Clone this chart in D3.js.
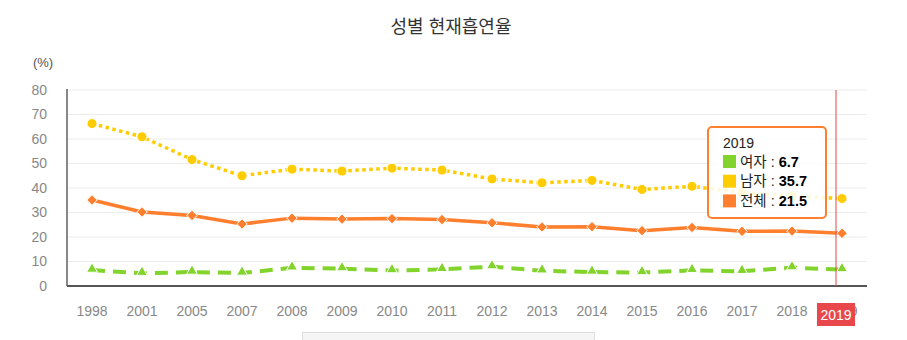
<!DOCTYPE html>
<html>
<head>
<meta charset="utf-8">
<script src="https://cdn.jsdelivr.net/npm/d3@7"></script>
<style>
  html, body { margin: 0; padding: 0; background: #fff; }
  svg { display: block; font-family: "Liberation Sans", Arial, "Noto Sans CJK KR", sans-serif; }
</style>
</head>
<body>
<svg id="chart" width="907" height="340"></svg>
<script>
// Current smoking rate by sex (%)
const years = ["1998","2001","2005","2007","2008","2009","2010","2011","2012","2013","2014","2015","2016","2017","2018","2019"];
const female = [6.5, 5.2, 5.7, 5.3, 7.4, 7.1, 6.3, 6.8, 7.9, 6.2, 5.7, 5.5, 6.4, 6.0, 7.5, 6.7];
const male   = [66.3, 60.9, 51.6, 45.0, 47.7, 46.9, 48.1, 47.3, 43.7, 42.1, 43.1, 39.4, 40.7, 38.1, 36.7, 35.7];
const total  = [35.1, 30.2, 28.8, 25.3, 27.7, 27.3, 27.5, 27.1, 25.8, 24.1, 24.2, 22.6, 23.9, 22.3, 22.4, 21.5];
const yTicks = [0, 10, 20, 30, 40, 50, 60, 70, 80];
const seriesNames = ["여자", "남자", "전체"];
const title = "성별 현재흡연율";
const unitLabel = "(%)";
const hoverYear = "2019";

const colors = { female: "#82d42d", male: "#ffcc00", total: "#ff7f2e" };
const svg = d3.select("#chart");
const plot = { left: 67, right: 867, top: 90, bottom: 286 };

const x = d3.scaleBand().domain(years).range([plot.left, plot.right]).padding(0);
const xc = d => x(d) + x.bandwidth() / 2;
const y = d3.scaleLinear().domain([0, 80]).range([plot.bottom, plot.top]);

// title
svg.append("text").attr("x", 451).attr("y", 33).attr("text-anchor", "middle")
  .attr("font-size", 18).attr("fill", "#333").text(title);

// unit
svg.append("text").attr("x", 43).attr("y", 67).attr("text-anchor", "middle")
  .attr("font-size", 13).attr("fill", "#555").text(unitLabel);

// gridlines
svg.append("g").selectAll("line").data(yTicks.filter(t => t > 0)).join("line")
  .attr("x1", plot.left).attr("x2", plot.right)
  .attr("y1", d => y(d)).attr("y2", d => y(d))
  .attr("stroke", "#ececec").attr("stroke-width", 1);

// y axis
const yAxis = svg.append("g").attr("transform", `translate(${plot.left},0)`)
  .call(d3.axisLeft(y).tickValues(yTicks).tickSize(0).tickPadding(20));
yAxis.select(".domain").remove();
yAxis.selectAll("text").attr("font-size", 14).attr("fill", "#888").attr("font-family", null);
svg.append("line").attr("x1", plot.left).attr("x2", plot.left)
  .attr("y1", plot.top - 1).attr("y2", plot.bottom).attr("stroke", "#111").attr("stroke-width", 1);

// x axis
const xAxis = svg.append("g").attr("transform", `translate(0,${plot.bottom})`)
  .call(d3.axisBottom(x).tickSize(0).tickPadding(20));
xAxis.select(".domain").remove();
xAxis.selectAll("text").attr("font-size", 14).attr("fill", "#888").attr("font-family", null);
svg.append("line").attr("x1", plot.left).attr("x2", plot.right)
  .attr("y1", plot.bottom).attr("y2", plot.bottom).attr("stroke", "#555").attr("stroke-width", 2);

// lines
const line = d3.line().x((d, i) => xc(years[i])).y(d => y(d));
svg.append("path").datum(total).attr("d", line).attr("fill", "none")
  .attr("stroke", colors.total).attr("stroke-width", 3.5);
svg.append("path").datum(male).attr("d", line).attr("fill", "none")
  .attr("stroke", colors.male).attr("stroke-width", 3.5).attr("stroke-dasharray", "3.5,3.5");
svg.append("path").datum(female).attr("d", line).attr("fill", "none")
  .attr("stroke", colors.female).attr("stroke-width", 4).attr("stroke-dasharray", "13,8");

// markers
svg.append("g").selectAll("circle").data(male).join("circle")
  .attr("cx", (d, i) => xc(years[i])).attr("cy", d => y(d)).attr("r", 5)
  .attr("fill", colors.male).attr("stroke", "#fff").attr("stroke-width", 1);
svg.append("g").selectAll("path").data(total).join("path")
  .attr("d", d3.symbol(d3.symbolDiamond2, 70))
  .attr("transform", (d, i) => `translate(${xc(years[i])},${y(d)})`)
  .attr("fill", colors.total).attr("stroke", "#fff").attr("stroke-width", 1);
svg.append("g").selectAll("path").data(female).join("path")
  .attr("d", d3.symbol(d3.symbolTriangle2, 85))
  .attr("transform", (d, i) => `translate(${xc(years[i])},${y(d) - 1})`)
  .attr("fill", colors.female).attr("stroke", "#fff").attr("stroke-width", 1);

// crosshair at hovered year
const hx = xc(hoverYear) - 6;
svg.append("line").attr("x1", hx).attr("x2", hx).attr("y1", plot.top).attr("y2", plot.bottom)
  .attr("stroke", "#e8474b").attr("stroke-width", 1);
svg.append("rect").attr("x", hx - 19).attr("y", 303).attr("width", 38).attr("height", 23)
  .attr("fill", "#e8474b");
svg.append("text").attr("x", hx).attr("y", 319.5).attr("text-anchor", "middle")
  .attr("font-size", 14).attr("fill", "#fff").text(hoverYear);

// tooltip
const hi = years.indexOf(hoverYear);
const tip = svg.append("g").attr("transform", "translate(708,127)");
tip.append("rect").attr("width", 118).attr("height", 91).attr("rx", 4)
  .attr("fill", "rgba(255,255,255,0.85)").attr("stroke", colors.total).attr("stroke-width", 2);
tip.append("text").attr("x", 15).attr("y", 21).attr("font-size", 14).attr("fill", "#222").text(hoverYear);
const rows = [
  { name: seriesNames[0], color: colors.female, v: female[hi] },
  { name: seriesNames[1], color: colors.male, v: male[hi] },
  { name: seriesNames[2], color: colors.total, v: total[hi] }
];
rows.forEach((r, i) => {
  const cy = 34.5 + i * 19.7;
  tip.append("rect").attr("x", 15).attr("y", cy - 6.5).attr("width", 13).attr("height", 13).attr("fill", r.color);
  const t = tip.append("text").attr("x", 32).attr("y", cy + 5).attr("font-size", 14.5).attr("fill", "#222");
  t.append("tspan").text(r.name + " : ");
  t.append("tspan").attr("font-weight", "bold").attr("fill", "#000").text(r.v.toFixed(1));
});

// navigator strip
svg.append("rect").attr("x", 302.5).attr("y", 332.5).attr("width", 292).attr("height", 12)
  .attr("fill", "#f5f5f5").attr("stroke", "#ddd");
</script>
</body>
</html>
